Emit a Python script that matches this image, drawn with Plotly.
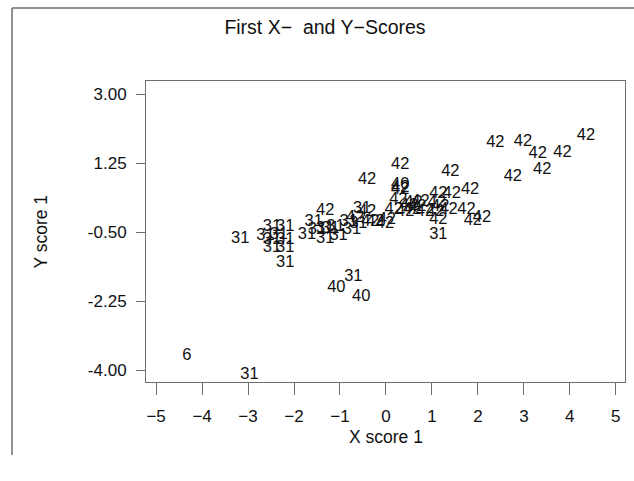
import plotly.graph_objects as go

# Data: point labels and first X/Y scores
labels = ["31", "31", "31", "31", "31", "31", "31", "31", "31", "31",
          "42", "31", "31", "31", "31", "31", "31", "31", "31", "31",
          "42", "31", "42", "42", "42", "42", "31", "40", "40",
          "42", "40", "42", "42", "42", "42", "42", "42", "42", "42", "42",
          "42", "42", "42", "42", "42", "42", "42", "42", "42", "42", "42",
          "42", "31", "42", "42", "42", "42", "42", "42", "42",
          "6", "31", "31", "31", "42", "42", "42", "42"]
x_scores = [-3.17, -2.48, -2.19, -2.62, -2.33, -2.48, -2.19, -2.48, -2.19, -2.19,
            -1.32, -1.57, -1.50, -1.32, -1.72, -1.32, -1.03, -1.10, -0.81, -0.60,
            -0.67, -0.52, -0.41, -0.23, -0.02, -0.41, -0.71, -1.08, -0.54,
            0.31, 0.31, 0.31, 0.27, 0.60, 0.75, 0.17, 0.42, 0.57, 0.85, 0.02,
            1.40, 1.14, 1.43, 1.83, 1.11, 1.18, 1.07, 1.36, 1.14, 1.75, 1.89,
            2.09, 1.14, 2.38, 2.98, 3.30, 3.84, 4.35, 2.76, 3.40,
            -4.33, -2.97, -1.21, -0.74, -0.34, 0.31, 0.50, 0.68]
y_scores = [-0.68, -0.37, -0.37, -0.60, -0.58, -0.70, -0.70, -0.91, -0.91, -1.29,
            0.04, -0.24, -0.45, -0.41, -0.58, -0.66, -0.60, -0.37, -0.24, -0.28,
            -0.15, 0.10, 0.02, -0.24, -0.28, 0.82, -1.64, -1.92, -2.15,
            1.20, 0.69, 0.57, 0.31, 0.23, 0.27, 0.06, 0.02, 0.06, 0.02, -0.20,
            1.03, 0.48, 0.48, 0.57, 0.23, 0.14, 0.02, 0.06, -0.20, 0.07, -0.21,
            -0.14, -0.58, 1.77, 1.79, 1.49, 1.52, 1.94, 0.90, 1.07,
            -3.64, -4.13, -0.41, -0.45, -0.24, 0.62, 0.17, 0.15]

x_ticks = [-5, -4, -3, -2, -1, 0, 1, 2, 3, 4, 5]
x_tick_labels = ["\u22125", "\u22124", "\u22123", "\u22122", "\u22121", "0", "1", "2", "3", "4", "5"]
y_ticks = [3.00, 1.25, -0.50, -2.25, -4.00]
y_tick_labels = ["3.00", "1.25", "-0.50", "-2.25", "-4.00"]

FONT = "Liberation Sans, Arial, sans-serif"
TXT = "#111111"
LINE = "#6e6e6e"

fig = go.Figure()
fig.add_trace(go.Scatter(
    x=x_scores, y=y_scores, mode="text", text=labels,
    textposition="middle center",
    textfont=dict(family=FONT, size=16.5, color=TXT),
    hoverinfo="skip", showlegend=False, cliponaxis=False,
))

W, H = 634, 481
L, R, T, B = 146, 9, 81, 99
pw, ph = W - L - R, H - T - B

def px_to_paper_x(px):
    return (px - L) / pw

def py_to_paper_y(py):
    return (H - B - py) / ph

fig.update_layout(
    width=W, height=H,
    margin=dict(l=L, r=R, t=T, b=B, pad=0),
    paper_bgcolor="white", plot_bgcolor="white",
    font=dict(family=FONT, size=17, color=TXT),
    title=dict(text="First X\u2212  and Y\u2212Scores", x=325 / W, xref="container",
               y=1 - 27 / H, yref="container", xanchor="center", yanchor="middle",
               font=dict(family=FONT, size=19.5, color=TXT)),
    xaxis=dict(range=[-5.22, 5.20], tickvals=x_ticks, ticktext=x_tick_labels,
               showgrid=False, zeroline=False, showline=True, mirror=True,
               linecolor=LINE, linewidth=1, ticks="outside", ticklen=12,
               tickcolor=LINE, tickwidth=1, ticklabelstandoff=7,
               tickfont=dict(family=FONT, size=17, color=TXT)),
    yaxis=dict(range=[-4.30, 3.33], tickvals=y_ticks, ticktext=y_tick_labels,
               showgrid=False, zeroline=False, showline=True, mirror=True,
               linecolor=LINE, linewidth=1, ticks="outside", ticklen=9,
               tickcolor=LINE, tickwidth=1, ticklabelstandoff=6,
               tickfont=dict(family=FONT, size=17, color=TXT)),
    annotations=[
        dict(text="X score 1", xref="paper", yref="paper", x=0.5, y=0,
             xanchor="center", yanchor="middle", yshift=-55, showarrow=False,
             font=dict(family=FONT, size=17.5, color=TXT)),
        dict(text="Y score 1", xref="paper", yref="paper", x=0, y=0.5,
             xanchor="center", yanchor="middle", xshift=-(L - 40), textangle=-90,
             showarrow=False, font=dict(family=FONT, size=17.5, color=TXT)),
    ],
    shapes=[
        dict(type="line", xref="paper", yref="paper",
             x0=px_to_paper_x(12), x1=px_to_paper_x(640),
             y0=py_to_paper_y(8), y1=py_to_paper_y(8),
             line=dict(color=LINE, width=1.5)),
        dict(type="line", xref="paper", yref="paper",
             x0=px_to_paper_x(12), x1=px_to_paper_x(12),
             y0=py_to_paper_y(8), y1=py_to_paper_y(455),
             line=dict(color=LINE, width=1.5)),
    ],
)

fig.write_html("out.html")
